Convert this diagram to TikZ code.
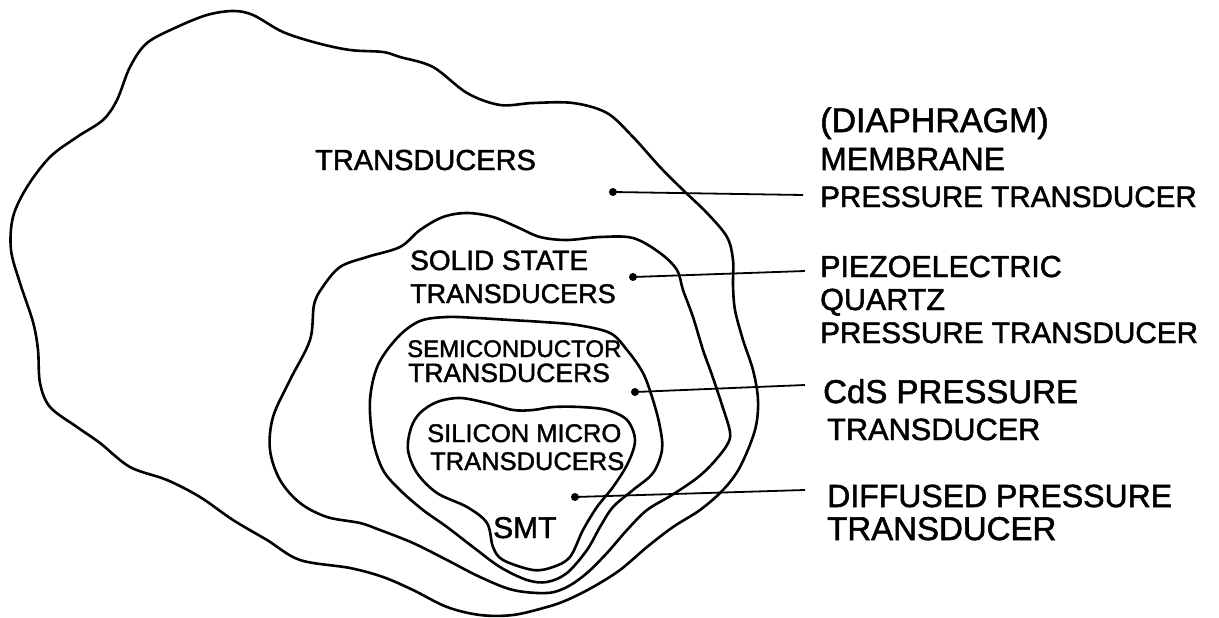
\documentclass[tikz,border=0pt]{standalone}
\usepackage{fontspec}
\setmainfont{Liberation Sans}[FakeBold=1.6]
\newcommand\fsz[1]{\fontsize{#1}{#1}\selectfont}
\tikzset{
  region/.style={line width=2.6pt, line join=round},
  lead/.style={line width=1.8pt},
  dotmark/.style={circle, fill=black, inner sep=0pt, minimum size=8pt},
  lbl/.style={inner sep=0pt, anchor=base west},
}
\begin{document}
\begin{tikzpicture}[x=1pt,y=-1pt]
\useasboundingbox (0,0) rectangle (1219,618);
% TRANSDUCERS region
\draw[region] plot[smooth cycle, tension=0.55] coordinates {
 (233,11) (253,15) (283,32) (317,43) (350,50) (383,52) (400,57) (433,67) (467,93)
 (500,105) (533,103) (573,103) (607,113) (633,137) (660,167) (683,190) (707,213)
 (727,237) (733,260) (733,285) (735,310) (743,340) (753,370) (758,400) (755,430)
 (740,467) (723,490) (700,510) (673,527) (647,547) (620,570) (593,587) (567,600)
 (547,607) (513,615) (480,615) (447,607) (413,590) (383,577) (350,568) (300,560)
 (267,540) (233,520) (200,497) (167,480) (130,467) (100,443) (77,427) (50,407)
 (40,383) (38,350) (33,322) (20,283) (11,250) (13,217) (27,187) (50,157) (77,137)
 (103,120) (117,100) (130,67) (147,43) (177,27) (207,15)};
% SOLID STATE region
\draw[region] plot[smooth cycle, tension=0.55] coordinates {
 (443,217) (467,213) (493,217) (517,227) (540,237) (567,240) (600,237) (633,238)
 (660,253) (677,270) (683,290) (693,317) (703,350) (712,375) (722,405) (730,432)
 (727,445) (713,463) (697,478) (672,495) (647,510) (627,530) (607,553) (587,573)
 (567,587) (547,593) (513,590) (480,577) (447,560) (413,543) (380,530) (360,523)
 (327,517) (300,503) (280,480) (270,450) (273,417) (290,380) (310,340) (314,305)
 (322,288) (340,267) (367,257) (400,247) (420,230)};
% SEMICONDUCTOR region
\draw[region] plot[smooth cycle, tension=0.55] coordinates {
 (420,321) (447,317) (477,318) (510,320) (543,322) (577,325) (610,333) (627,350)
 (643,373) (653,400) (660,427) (662,450) (653,473) (633,490) (613,507) (600,527)
 (587,550) (567,573) (547,582) (527,580) (500,567) (473,547) (447,527) (423,510)
 (400,490) (383,470) (373,440) (370,400) (378,365) (398,337)};
% SILICON MICRO region
\draw[region] plot[smooth cycle, tension=0.55] coordinates {
 (420,413) (437,402) (460,398) (487,403) (513,410) (533,410) (553,407) (580,407)
 (607,410) (627,420) (635,440) (628,463) (613,487) (597,507) (583,530) (570,557)
 (553,567) (533,570) (503,560) (493,547) (487,523) (467,507) (437,493) (417,473)
 (408,450) (411,428)};
% region labels
\node[lbl, font=\fsz{29}] (tr) at (315,170) {TRANSDUCERS};
\node[lbl, font=\fsz{28}] (ss1) at (410,270) {SOLID STATE};
\node[lbl, font=\fsz{27}] (ss2) at (410,303) {TRANSDUCERS};
\node[lbl, font=\fsz{24}] (sc1) at (407,357) {SEMICONDUCTOR};
\node[lbl, font=\fsz{26.5}] (sc2) at (408,382) {TRANSDUCERS};
\node[lbl, font=\fsz{25.5}] (si1) at (427,442) {SILICON MICRO};
\node[lbl, font=\fsz{25.5}] (si2) at (430,470) {TRANSDUCERS};
\node[lbl, font=\fsz{30}] (smt) at (493,538) {SMT};
% dots
\node[dotmark] (d1) at (613,192) {};
\node[dotmark] (d2) at (633,277) {};
\node[dotmark] (d3) at (635,392) {};
\node[dotmark] (d4) at (575,497) {};
\coordinate (e1) at (803,195);
\coordinate (e2) at (805,271);
\coordinate (e3) at (805,385);
\coordinate (e4) at (805,490);
\draw[lead] (d1.center) -- (e1);
\draw[lead] (d2.center) -- (e2);
\draw[lead] (d3.center) -- (e3);
\draw[lead] (d4.center) -- (e4);
% right-hand labels
\node[lbl, font=\fsz{34}] (m1) at (820,132) {(DIAPHRAGM)};
\node[lbl, font=\fsz{32}] (m2) at (820,170) {MEMBRANE};
\node[lbl, font=\fsz{29.6}] (m3) at (820,207) {PRESSURE TRANSDUCER};
\node[lbl, font=\fsz{30.4}] (p1) at (820,277) {PIEZOELECTRIC};
\node[lbl, font=\fsz{30.5}] (p2) at (820,310) {QUARTZ};
\node[lbl, font=\fsz{29.7}] (p3) at (820,343) {PRESSURE TRANSDUCER};
\node[lbl, font=\fsz{33}] (c1) at (823,403) {CdS PRESSURE};
\node[lbl, font=\fsz{30.7}] (c2) at (827,440) {TRANSDUCER};
\node[lbl, font=\fsz{32}] (f1) at (827,507) {DIFFUSED PRESSURE};
\node[lbl, font=\fsz{33}] (f2) at (827,540) {TRANSDUCER};
\end{tikzpicture}
\end{document}
